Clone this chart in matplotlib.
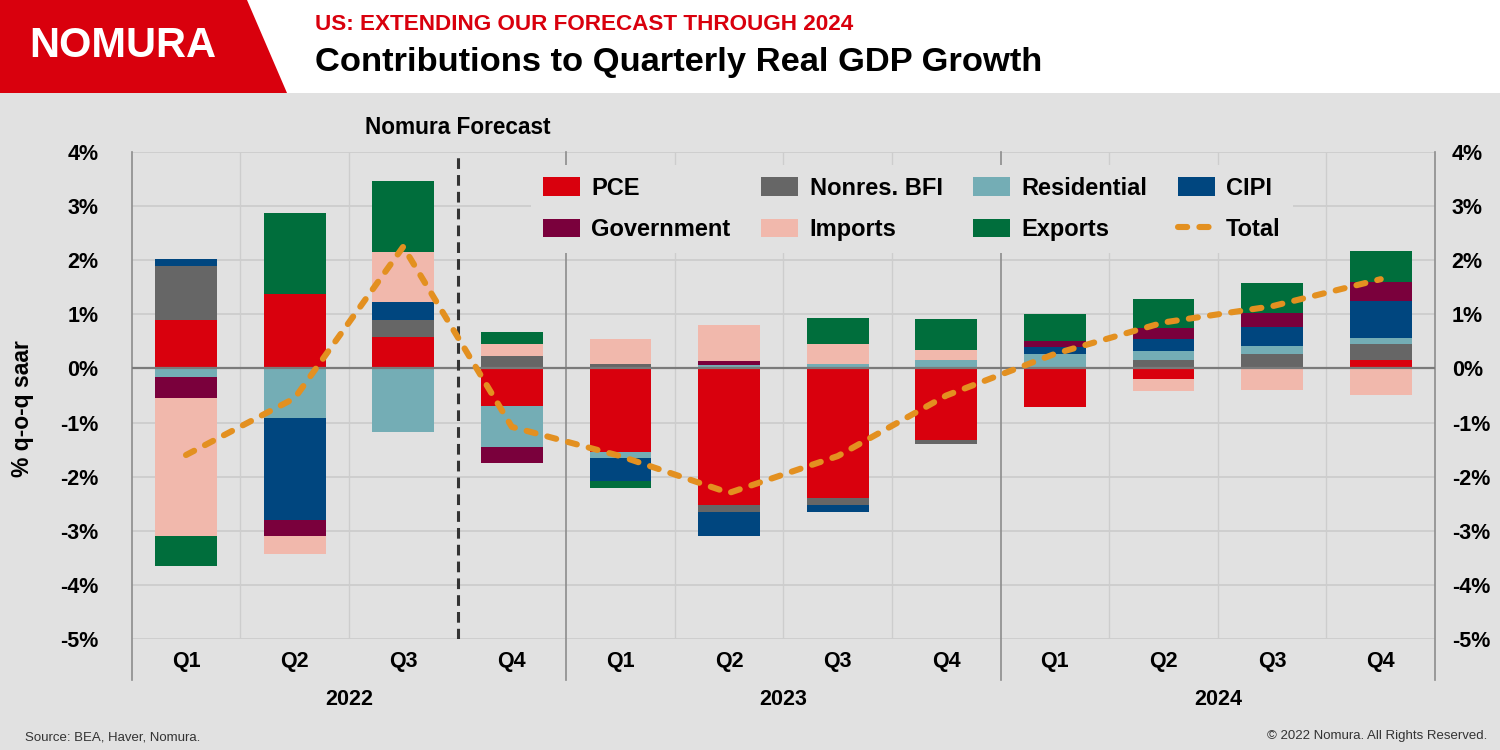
import numpy as np
import matplotlib.pyplot as plt
from matplotlib.patches import Rectangle, Polygon, Patch
from matplotlib.lines import Line2D

plt.rcParams['font.family'] = ['Liberation Sans', 'DejaVu Sans']

quarters = ['Q1', 'Q2', 'Q3', 'Q4'] * 3
years = ['2022', '2023', '2024']

# contributions, percentage points
pce = [0.89, 1.37, 0.58, -0.70, -1.55, -2.53, -2.39, -1.33, -0.71, -0.19, 0.00, 0.15]
bfi = [1.00, 0.00, 0.31, 0.23, 0.08, -0.12, -0.14, -0.07, 0.00, 0.15, 0.27, 0.30]
residential = [-0.16, -0.92, -1.17, -0.75, -0.11, 0.06, 0.08, 0.15, 0.27, 0.17, 0.15, 0.11]
cipi = [0.14, -1.88, 0.34, 0.00, -0.42, -0.45, -0.12, 0.00, 0.12, 0.22, 0.34, 0.68]
government = [-0.39, -0.29, 0.00, -0.29, 0.00, 0.08, 0.00, 0.00, 0.11, 0.21, 0.26, 0.36]
imports = [-2.55, -0.34, 0.93, 0.22, 0.46, 0.67, 0.38, 0.19, 0.00, -0.22, -0.40, -0.49]
exports = [-0.56, 1.50, 1.30, 0.22, -0.13, 0.00, 0.48, 0.58, 0.51, 0.54, 0.56, 0.58]
total = [-1.6, -0.55, 2.25, -1.08, -1.62, -2.3, -1.62, -0.5, 0.27, 0.85, 1.15, 1.65]

series = [
    (pce, 'PCE', '#d9000d'),
    (bfi, 'Nonres. BFI', '#666666'),
    (residential, 'Residential', '#74adb5'),
    (cipi, 'CIPI', '#00467f'),
    (government, 'Government', '#7a003c'),
    (imports, 'Imports', '#f1b8ac'),
    (exports, 'Exports', '#006e3c'),
]

bg = '#e1e1e1'
fig = plt.figure(figsize=(15, 7.5), dpi=100, facecolor=bg)

# header band
fig.patches.append(Rectangle((0, 0.876), 1, 0.124, transform=fig.transFigure,
                             facecolor='white', edgecolor='none', zorder=0))
fig.patches.append(Polygon([(0, 1), (247 / 1500, 1), (287 / 1500, 0.876), (0, 0.876)],
                           closed=True, transform=fig.transFigure,
                           facecolor='#d9000d', edgecolor='none', zorder=1))
fig.text(0.0195, 1 - 46 / 750, 'NOMURA', color='white', fontsize=30,
         fontweight='bold', va='center', ha='left')
fig.text(0.21, 1 - 24 / 750, 'US: EXTENDING OUR FORECAST THROUGH 2024',
         color='#d9000d', fontsize=16.2, fontweight='bold', va='center')
fig.text(0.21, 1 - 62 / 750, 'Contributions to Quarterly Real GDP Growth',
         color='black', fontsize=24.8, fontweight='bold', va='center')

ax = fig.add_axes([0.0878, 0.148, 0.8689, 0.6493])
ax.set_facecolor(bg)
x = np.arange(len(quarters))

for yv in range(-5, 5):
    ax.axhline(yv, color='#cbcbcb', lw=1.2, zorder=1)
for xv in [0.5, 1.5, 4.5, 5.5, 6.5, 8.5, 9.5, 10.5]:
    ax.axvline(xv, color='#cdcdcd', lw=1.0, zorder=1)
for xv in [-0.5, 3.5, 7.5, 11.5]:
    ax.plot([xv, xv], [-0.084, 1], transform=ax.get_xaxis_transform(),
            color='#8c8c8c', lw=1.2, clip_on=False, zorder=2)

pos = np.zeros(len(x))
neg = np.zeros(len(x))
handles = {}
for vals, name, col in series:
    v = np.array(vals)
    bottom = np.where(v >= 0, pos, neg)
    ax.bar(x, v, bottom=bottom, width=0.57, color=col, zorder=3)
    pos += np.clip(v, 0, None)
    neg += np.clip(v, None, 0)
    handles[name] = Patch(facecolor=col, edgecolor='none')

ax.axhline(0, color='#7a7a7a', lw=1.6, zorder=4)
ax.plot([2.5, 2.5], [-5, 4], color='#333333', lw=2.2, linestyle=(0, (3.5, 2)), zorder=5)
ax.plot(x, total, color='#e39020', lw=4.4, linestyle=(0, (1.5, 2.0)),
        dash_capstyle='round', zorder=6)
handles['Total'] = Line2D([], [], color='#e39020', lw=4.4, linestyle=(0, (1.5, 2.0)),
                          dash_capstyle='round')

ax.set_xlim(-0.5, 11.5)
ax.set_ylim(-5, 4)
ax.set_xticks(x)
ax.set_xticklabels(quarters, fontsize=15.5, fontweight='bold')
ax.tick_params(axis='x', length=0, pad=9)
yt = list(range(-5, 5))
ax.set_yticks(yt)
ax.set_yticklabels([f'{v}%' for v in yt], fontsize=15.5, fontweight='bold')
ax.tick_params(axis='y', length=0, pad=24)
for s in ax.spines.values():
    s.set_visible(False)
ax.set_ylabel('% q-o-q saar', fontsize=16.5, fontweight='bold')
ax.yaxis.set_label_coords(-0.075, 0.474)

ax2 = ax.twinx()
ax2.set_ylim(-5, 4)
ax2.set_yticks(yt)
ax2.set_yticklabels([f'{v}%' for v in yt], fontsize=15.5, fontweight='bold')
ax2.tick_params(axis='y', length=0, pad=12)
for s in ax2.spines.values():
    s.set_visible(False)

for i, yr in enumerate(years):
    ax.text(1.5 + 4 * i, -0.125, yr, transform=ax.get_xaxis_transform(),
            ha='center', va='center', fontsize=15.5, fontweight='bold')

fig.text(458 / 1500, 1 - 127 / 750, 'Nomura Forecast', ha='center', va='center',
         fontsize=16.3, fontweight='bold')

order = ['PCE', 'Government', 'Nonres. BFI', 'Imports', 'Residential', 'Exports', 'CIPI', 'Total']
leg = ax2.legend([handles[k] for k in order], order, ncol=4, loc='center',
                 bbox_to_anchor=(912 / 1500, 1 - 209 / 750), bbox_transform=fig.transFigure,
                 prop={'size': 17, 'weight': 'bold'}, frameon=True, facecolor=bg,
                 edgecolor='none', framealpha=1, fancybox=False,
                 handlelength=1.57, handleheight=0.85, handletextpad=0.47,
                 columnspacing=1.3, labelspacing=0.78, borderpad=0.5)
leg.set_zorder(10)

fig.text(25 / 1500, 1 - 737 / 750, 'Source: BEA, Haver, Nomura.', fontsize=9.5,
         color='#333333', va='center')
fig.text(1487 / 1500, 1 - 736 / 750, '\u00a9 2022 Nomura. All Rights Reserved.',
         fontsize=9.5, color='#333333', va='center', ha='right')

fig.savefig('out.png', dpi=100, facecolor=bg)
